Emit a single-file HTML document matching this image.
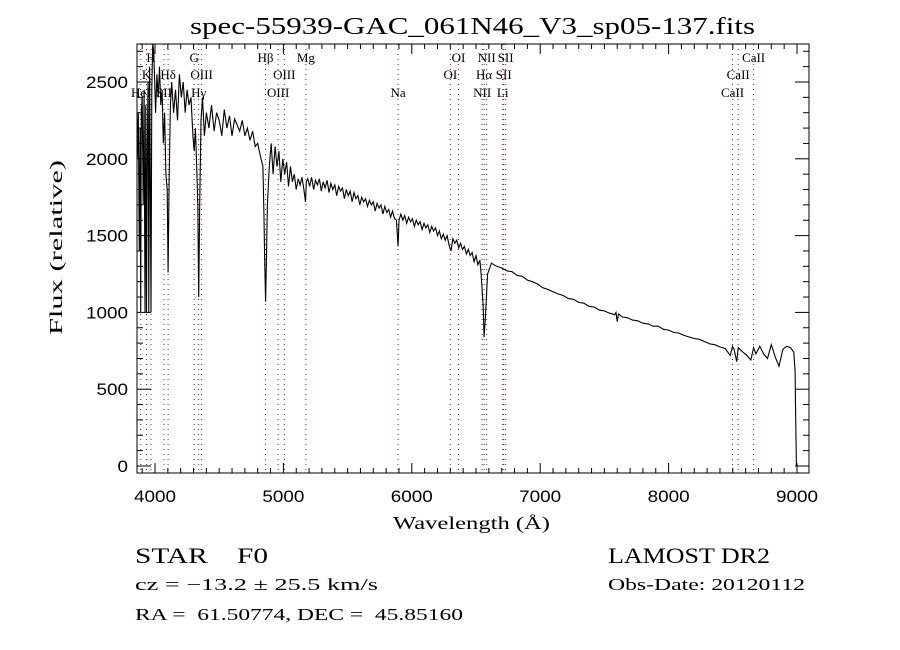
<!DOCTYPE html>
<html><head><meta charset="utf-8"><style>
body{margin:0;background:#fff;}
svg{display:block;font-family:"Liberation Serif",serif;}
</style></head><body>
<svg id="chart" width="900" height="650" viewBox="0 0 900 650" xmlns="http://www.w3.org/2000/svg">
<rect width="900" height="650" fill="#fff"/>
<text x="190" y="34" font-size="24" textLength="565" lengthAdjust="spacingAndGlyphs">spec-55939-GAC_061N46_V3_sp05-137.fits</text>
<g id="lines"></g>
<g id="spec"></g>
<g id="axes"></g>
<text x="393" y="529" font-size="18" textLength="157" lengthAdjust="spacingAndGlyphs">Wavelength (Å)</text>
<text transform="translate(62,335) rotate(-90)" font-size="18" textLength="175" lengthAdjust="spacingAndGlyphs">Flux (relative)</text>
<text x="135" y="563" font-size="22" textLength="133" lengthAdjust="spacingAndGlyphs" xml:space="preserve">STAR    F0</text>
<text x="135" y="590" font-size="17" textLength="243" lengthAdjust="spacingAndGlyphs">cz = −13.2 ± 25.5 km/s</text>
<text x="135" y="620" font-size="17" textLength="328" lengthAdjust="spacingAndGlyphs" xml:space="preserve">RA =  61.50774, DEC =  45.85160</text>
<text x="608" y="563" font-size="22" textLength="162" lengthAdjust="spacingAndGlyphs">LAMOST DR2</text>
<text x="608" y="590" font-size="17" textLength="197" lengthAdjust="spacingAndGlyphs">Obs-Date: 20120112</text>
</svg>
<script>
const xTicks=[4000,5000,6000,7000,8000,9000];
const yTicks=[0,500,1000,1500,2000,2500];
const waveA=[3862,3870,3878,3884,3889,3893,3900,3908,3915,3922,3928,3934,3940,3946,3952,3958,3963,3969,3975,3982,3990,3998,4005,4015,4025,4035,4045,4055,4065,4075,4085,4095,4102,4110,4120,4130,4145,4160,4175,4190,4205,4220,4235,4250,4265,4280,4295,4305,4315,4325,4333,4340,4348,4358,4370,4385];
const fluxA=[2000,2300,1400,2200,1000,2300,2400,1700,2450,1000,2350,1000,2100,2500,1000,2600,2000,1000,2450,2750,2700,2500,2300,2550,2400,2600,2350,2450,2100,2300,1900,1800,1260,1850,2350,2500,2300,2450,2250,2550,2400,2500,2300,2450,2350,2400,2150,2050,2200,1950,1700,1100,1700,2250,2400,2150];
const waveB=[4400,4420,4440,4460,4480,4500,4520,4540,4560,4580,4600,4620,4640,4660,4680,4700,4720,4740,4760,4780,4800,4820,4840,4848,4855,4861,4867,4875,4890,4905,4920,4935,4950,4965,4980,4995,5010,5025,5040,5055,5070,5085,5100,5115,5130,5145,5160,5172,5178];
const fluxB=[2300,2200,2350,2180,2300,2250,2150,2320,2200,2280,2150,2260,2220,2180,2250,2150,2200,2120,2180,2080,2100,2020,1950,1650,1300,1070,1300,1700,1950,2100,1900,2080,1950,2050,1850,2000,1900,1980,1820,1950,1850,1900,1800,1870,1830,1880,1800,1720,1850];
const waveC=[5190,5205,5220,5235,5250,5265,5280,5295,5310,5325,5340,5355,5370,5385,5400,5415,5430,5445,5460,5475,5490,5505,5520,5535,5550,5565,5580,5595,5610,5625,5640,5655,5670,5685,5700,5715,5730,5745,5760,5775,5790,5805,5820,5835,5850,5865,5880,5893,5900];
const fluxC=[1870,1820,1880,1800,1860,1830,1870,1790,1850,1810,1860,1780,1840,1800,1830,1760,1820,1790,1810,1740,1800,1760,1790,1720,1780,1740,1760,1700,1750,1720,1740,1690,1730,1700,1720,1660,1710,1680,1700,1640,1690,1650,1670,1620,1660,1610,1600,1430,1600];
const waveD=[5915,5930,5945,5960,5975,5990,6005,6020,6035,6050,6065,6080,6095,6110,6125,6140,6155,6170,6185,6200,6215,6230,6245,6260,6275,6290,6305,6320,6335,6350,6365,6380,6395,6410,6425,6440,6455,6470,6485,6500,6515,6530,6540,6555,6563,6572,6590];
const fluxD=[1640,1600,1630,1580,1620,1590,1610,1560,1600,1570,1590,1540,1580,1550,1570,1520,1560,1530,1550,1500,1530,1480,1510,1470,1500,1440,1400,1480,1450,1470,1420,1450,1410,1430,1380,1410,1370,1390,1330,1370,1310,1340,1250,1050,840,950,1250];
const waveE=[6620,6660,6700,6740,6780,6820,6860,6900,6940,6980,7020,7060,7100,7140,7180,7220,7260,7300,7340,7380,7420,7460,7500,7540,7580,7590,7600,7610,7640,7680,7720,7760,7800,7840,7880,7920,7960,8000,8040,8080,8120,8160,8200,8240,8280,8320,8360,8400,8440,8480,8498,8510,8530,8542,8555,8580,8610,8640,8662,8680,8710,8740,8770,8800,8830,8860,8890,8920,8950,8975,8985,8988,8995];
const fluxE=[1320,1300,1290,1270,1265,1240,1235,1210,1200,1185,1160,1150,1135,1120,1110,1090,1085,1065,1060,1040,1035,1015,1010,995,985,1000,940,990,970,965,950,945,930,925,910,910,890,885,870,865,850,840,830,825,810,795,790,775,765,720,780,760,680,770,760,740,720,690,770,730,780,730,700,790,710,650,760,780,770,740,620,400,0];
const wave=waveA.concat(waveB,waveC,waveD,waveE);
const flux=fluxA.concat(fluxB,fluxC,fluxD,fluxE);
const lineWaves=[3889,3934,3969,4070,4102,4305,4340,4363,4861,4959,5007,5175,5893,6300,6364,6548,6563,6583,6708,6716,6731,8498,8542,8662];
const labelText=["H","K","HeI","SII","Hδ","G","OIII","Hγ","Hβ","OIII","OIII","Mg","Na","OI","OI","NII","Hα","NII","SII","SII","Li","CaII","CaII","CaII"];
const labelWave=[3969,3934,3889,4070,4102,4305,4363,4340,4861,5007,4959,5175,5893,6364,6300,6583,6563,6548,6731,6716,6708,8662,8542,8498];
const labelRow=[1,2,3,3,2,1,2,3,1,2,3,1,3,1,2,1,2,3,1,2,3,1,2,3];
const X0=137,X1=809,Y0=44,Y1=473;
const xs=w=>155+(w-4000)*0.1284;
const ys=f=>466-f*0.1536;
const NS="http://www.w3.org/2000/svg";
function mk(t,a,p){const e=document.createElementNS(NS,t);for(const k in a)e.setAttribute(k,a[k]);p.appendChild(e);return e;}
const L=document.getElementById('lines');
lineWaves.forEach(w=>{const e=mk('line',{x1:xs(w),x2:xs(w),y1:Y0,y2:Y1,stroke:'#8b2020','stroke-width':1,'stroke-dasharray':'1,4'},L);

});
const rowY=[0,62,79,97];
labelText.forEach((t,i)=>{const e=mk('text',{x:xs(labelWave[i]),y:rowY[labelRow[i]],'font-size':13,'text-anchor':'middle'},L);e.textContent=t;

});
const S=document.getElementById('spec');
let d='';wave.forEach((w,i)=>{d+=(i?'L':'M')+xs(w).toFixed(1)+','+Math.max(Y0,ys(flux[i])).toFixed(1);});
const p=mk('path',{d:d,fill:'none',stroke:'#000','stroke-width':1.1},S);


const A=document.getElementById('axes');
const fr=mk('rect',{x:X0,y:Y0,width:X1-X0,height:Y1-Y0,fill:'none',stroke:'#000','stroke-width':1},A);


for(let w=3900;w<=9000;w+=100){const x=xs(w);if(x<X0||x>X1)continue;const len=(w%1000===0)?10:5;
mk('line',{x1:x,x2:x,y1:Y1,y2:Y1-len,stroke:'#000'},A);mk('line',{x1:x,x2:x,y1:Y0,y2:Y0+len,stroke:'#000'},A);}
for(let f=0;f<=2700;f+=100){const y=ys(f);if(y<Y0)continue;const len=(f%500===0)?14:6;
mk('line',{x1:X0,x2:X0+len,y1:y,y2:y,stroke:'#000'},A);mk('line',{x1:X1,x2:X1-len,y1:y,y2:y,stroke:'#000'},A);}
xTicks.forEach(w=>{const e=mk('text',{x:xs(w)-21,y:502,'font-size':17,textLength:42,lengthAdjust:'spacingAndGlyphs','font-family':'Liberation Sans,sans-serif'},A);e.textContent=w;

});
yTicks.forEach(f=>{const s=String(f);const wdt=s.length*10.5;const e=mk('text',{x:128-wdt,y:ys(f)+6,'font-size':17,textLength:wdt,lengthAdjust:'spacingAndGlyphs','font-family':'Liberation Sans,sans-serif'},A);e.textContent=f;

});
</script>
</body></html>
